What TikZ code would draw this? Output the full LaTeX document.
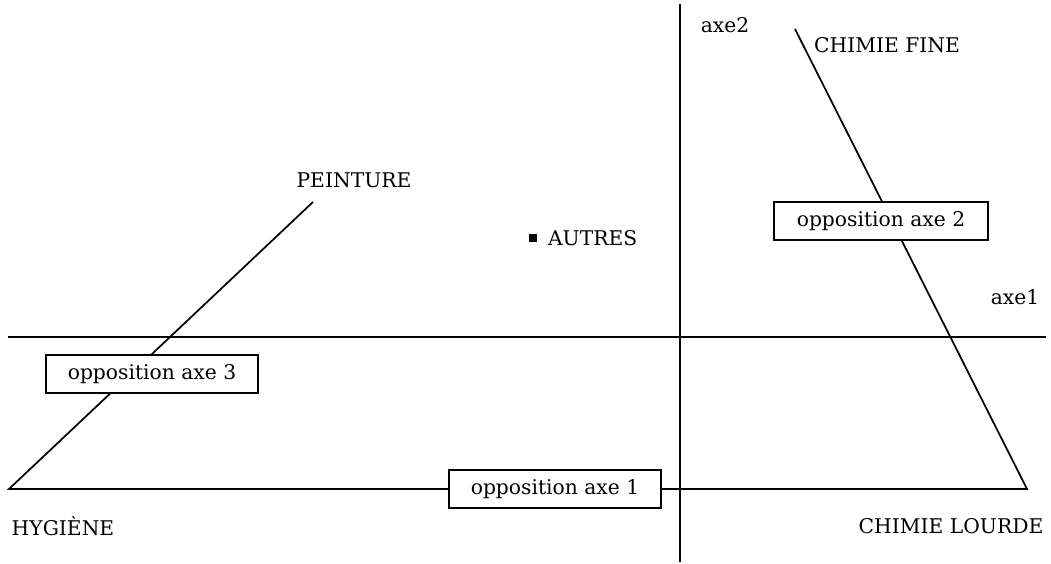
\documentclass[tikz,border=0pt]{standalone}
\usepackage{fontspec}
\setmainfont{DejaVu Serif}
\usetikzlibrary{positioning}

\tikzset{
  lbl/.style={font=\fontsize{15.2}{18}\selectfont, inner sep=0pt},
  oppbox/.style={draw, fill=white, line width=1.1pt, minimum height=28.5pt,
    inner sep=0pt, font=\fontsize{15.2}{18}\selectfont},
  axe/.style={line width=1.3pt},
}

\begin{document}
\begin{tikzpicture}[x=0.75pt, y=-0.75pt, line width=1.3pt]
  \useasboundingbox (0,0) rectangle (1051,564);

  % the two factorial axes
  \coordinate (ax1w) at (8,337);
  \coordinate (ax1e) at (1046,337);
  \coordinate (ax2n) at (680,4);
  \coordinate (ax2s) at (680,562);
  \draw[axe] (ax1w) -- (ax1e);
  \draw[axe] (ax2n) -- (ax2s);

  % corners of the triangle
  \coordinate (hyg) at (9,489);
  \coordinate (pei) at (313,202);
  \coordinate (cf) at (795,29);
  \coordinate (cl) at (1027,489);
  \draw (pei) -- (hyg) -- (cl) -- (cf);

  % boxes sitting on the sides
  \node[oppbox, minimum width=159pt] (opp1) at (555,489) {opposition axe 1};
  \node[oppbox, minimum width=160.5pt] (opp2) at (881,221) {opposition axe 2};
  \node[oppbox, minimum width=159pt] (opp3) at (152,374) {opposition axe 3};

  % labels
  \node[lbl] (axe2) at (725,25) {axe2};
  \node[lbl] (axe1) at (1015,297) {axe1};
  \node[lbl] (chfine) at (887,45) {CHIMIE FINE};
  \node[lbl] (peint) at (354,180) {PEINTURE};
  \node[lbl] (hygiene) at (63,526) {HYGIÈNE};
  \node[lbl] (chlourde) at (951,526) {CHIMIE LOURDE};

  \node[fill, minimum size=6pt, inner sep=0pt] (autres) at (533,238) {};
  \node[lbl, right=7pt of autres] (autrestxt) {AUTRES};
\end{tikzpicture}
\end{document}
